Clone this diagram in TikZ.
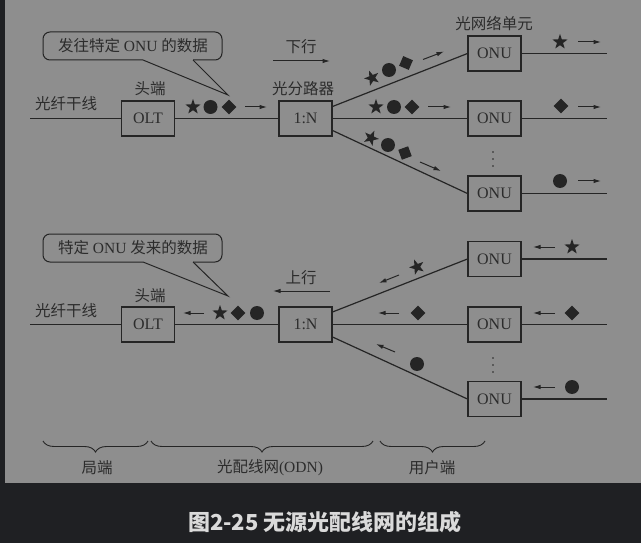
\documentclass[tikz,border=0pt]{standalone}
\usepackage{fontspec}
\setmainfont{Liberation Serif}
\newfontfamily\cjk{Noto Sans CJK SC}
\usetikzlibrary{arrows.meta,shapes.geometric,decorations.pathreplacing,calc}
\definecolor{bg}{HTML}{8E8E8E}
\definecolor{frame}{HTML}{1F2023}
\definecolor{ink}{HTML}{252525}
\definecolor{txt}{HTML}{2C2C2C}
\definecolor{cap}{HTML}{DADADA}
\newcommand{\zh}[1]{{\cjk #1}}
\begin{document}
\begin{tikzpicture}[x=1pt,y=-1pt,
  box/.style={draw=ink, line width=1.1pt, minimum width=53pt, minimum height=35pt, inner sep=0pt, font=\fontsize{16}{16}\selectfont, text=txt},
  wire/.style={draw=ink, line width=1.2pt},
  flow/.style={draw=ink, line width=1pt, -{Latex[length=7.5pt,width=4.5pt]}},
  lbl/.style={font=\cjk\fontsize{15.5}{16}\selectfont, text=txt, inner sep=0pt},
  mixlbl/.style={font=\fontsize{15.5}{16}\selectfont, text=txt, inner sep=0pt},
  sstar/.style={star, star points=5, star point ratio=2.5, fill=ink, inner sep=0pt, minimum size=16pt},
  sdot/.style={circle, fill=ink, inner sep=0pt, minimum size=14pt},
  sdia/.style={diamond, fill=ink, inner sep=0pt, minimum size=15pt},
  callout/.style={draw=ink, line width=1pt},
  curly/.style={draw=ink, line width=0.9pt, decorate, decoration={brace, mirror, amplitude=11pt}}
]
\useasboundingbox (0,0) rectangle (641,543);
\fill[frame] (0,0) rectangle (641,543);
\fill[bg] (5,0) rectangle (641,483);

% ================= TOP (downstream) =================
\coordinate (t1L) at (30,118.5);
\node[box] (olt1) at (148,118.5) {OLT};
\node[box] (sp1) at (305.5,118.5) {1:N};
\node[box] (u1a) at (494.5,53.5) {ONU};
\node[box] (u1b) at (494.5,118.5) {ONU};
\node[box] (u1c) at (494.5,193.5) {ONU};
\coordinate (e1a) at (607,53.5);
\coordinate (e1b) at (607,118.5);
\coordinate (e1c) at (607,193.5);
\draw[wire] (t1L) -- (olt1.west);
\draw[wire] (olt1.east) -- (sp1.west);
\draw[wire] (sp1.east) -- (u1b.west);
\draw[wire] ($(sp1.east)+(0,-12)$) -- (u1a.west);
\draw[wire] ($(sp1.east)+(0,12)$) -- (u1c.west);
\draw[wire] (u1a.east) -- (e1a);
\draw[wire] (u1b.east) -- (e1b);
\draw[wire] (u1c.east) -- (e1c);

\node[lbl] (l1a) at (66,104) {光纤干线};
\node[lbl] (l1b) at (150,89) {头端};
\node[lbl] (l1c) at (303,89) {光分路器};
\node[lbl] (l1d) at (494,24) {光网络单元};
\node[lbl] (l1e) at (301,47) {下行};
\draw[flow] (273,61) -- (330,61);

% trunk symbols
\node[sstar] (a1) at (193,107) {};
\node[sdot] (a2) at (210.5,107) {};
\node[sdia] (a3) at (229,107) {};
\draw[flow] (245,107) -- (267,107);
% middle branch
\node[sstar] (b1) at (376,107) {};
\node[sdot] (b2) at (394,107) {};
\node[sdia] (b3) at (412,107) {};
\draw[flow] (428,107) -- (451,107);
% upper branch
\node[sstar, rotate=21.7] (c1) at (372,78) {};
\node[sdot] (c2) at (389,70) {};
\node[sdia, rotate=21.7] (c3) at (406,63) {};
\draw[flow] (423,59.5) -- (444,51.5);
% lower branch
\node[sstar, rotate=-24.9] (d1) at (371,138) {};
\node[sdot] (d2) at (388,145) {};
\node[sdia, rotate=-24.9] (d3) at (405,153) {};
\draw[flow] (420,162) -- (441,171);
% outputs
\node[sstar] (f1) at (560,42) {};
\node[sdia] (f2) at (561,106) {};
\node[sdot] (f3) at (560,181) {};
\draw[flow] (578,42) -- (601,42);
\draw[flow] (578,107) -- (601,107);
\draw[flow] (578,181) -- (601,181);
% dots
\foreach \yy in {152,159,166} \fill[ink] (493,\yy) circle (0.9);

% callout 1
\draw[callout, rounded corners=7pt] (193,60) -- (222,60) -- (222,32) -- (43,32) -- (43,60) -- (143,60);
\draw[callout] (143,60) -- (228,95) -- (193,60);
\node[mixlbl] (k1) at (133,46) {\zh{发往特定} ONU \zh{的数据}};

% ================= BOTTOM (upstream) =================
\coordinate (t2L) at (30,324.5);
\node[box] (olt2) at (148,324.5) {OLT};
\node[box] (sp2) at (305.5,324.5) {1:N};
\node[box] (u2a) at (494.5,259) {ONU};
\node[box] (u2b) at (494.5,324.5) {ONU};
\node[box] (u2c) at (494.5,399) {ONU};
\coordinate (e2a) at (607,259);
\coordinate (e2b) at (607,324.5);
\coordinate (e2c) at (607,399);
\draw[wire] (t2L) -- (olt2.west);
\draw[wire] (olt2.east) -- (sp2.west);
\draw[wire] (sp2.east) -- (u2b.west);
\draw[wire] ($(sp2.east)+(0,-12.5)$) -- (u2a.west);
\draw[wire] ($(sp2.east)+(0,12.5)$) -- (u2c.west);
\draw[wire] (u2a.east) -- (e2a);
\draw[wire] (u2b.east) -- (e2b);
\draw[wire] (u2c.east) -- (e2c);

\node[lbl] (l2a) at (66,311) {光纤干线};
\node[lbl] (l2b) at (150,296) {头端};
\node[lbl] (l2e) at (301,278) {上行};
\draw[flow] (330,291) -- (273,291);

% trunk symbols
\draw[flow] (204,313) -- (183,313);
\node[sstar] (g1) at (220,313) {};
\node[sdia] (g2) at (238,313) {};
\node[sdot] (g3) at (257,313) {};
% upper branch
\node[sstar, rotate=21] (h1) at (417,267) {};
\draw[flow] (399,275) -- (379,283);
% middle branch
\draw[flow] (399,313) -- (378,313);
\node[sdia] (h2) at (418,313) {};
% lower branch
\draw[flow] (395,352) -- (376,344);
\node[sdot] (h3) at (417,364) {};
% inputs
\draw[flow] (555,247) -- (533,247);
\draw[flow] (555,313) -- (533,313);
\draw[flow] (555,387) -- (533,387);
\node[sstar] (i1) at (572,247) {};
\node[sdia] (i2) at (572,313) {};
\node[sdot] (i3) at (572,387) {};
% dots
\foreach \yy in {358,365,372} \fill[ink] (493,\yy) circle (0.9);

% callout 2
\draw[callout, rounded corners=7pt] (193,262) -- (222,262) -- (222,234) -- (43,234) -- (43,262) -- (143,262);
\draw[callout] (143,262) -- (228,296) -- (193,262);
\node[mixlbl] (k2) at (133,248) {\zh{特定} ONU \zh{发来的数据}};

% ================= braces =================
\draw[curly] (43,441) -- (148,441);
\draw[curly] (151,441) -- (373,441);
\draw[curly] (380,441) -- (485,441);
\node[lbl] (m1) at (97,468) {局端};
\node[mixlbl] (m2) at (270,468) {\zh{光配线网}(ODN)};
\node[lbl] (m3) at (432,468) {用户端};

% caption
\node[font=\cjk\bfseries\fontsize{22}{22}\selectfont, text=cap, inner sep=0pt] (cap) at (325,522) {图2-25 无源光配线网的组成};
\end{tikzpicture}
\end{document}
